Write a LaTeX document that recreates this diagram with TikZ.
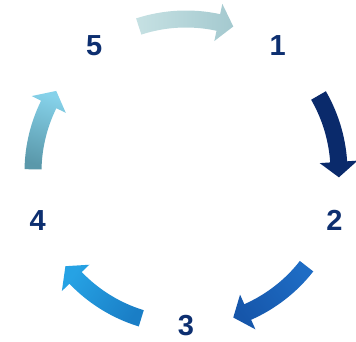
\documentclass[tikz,border=0pt]{standalone}
\usepackage{fontspec}
\setmainfont{Liberation Sans}

\definecolor{azulnum}{HTML}{0D2F70}
\definecolor{cianA}{HTML}{C6E1E3}
\definecolor{cianB}{HTML}{A4C9CF}
\definecolor{marino}{HTML}{0A2A6B}
\definecolor{azulA}{HTML}{1E6CC4}
\definecolor{azulB}{HTML}{1656AA}
\definecolor{celesteA}{HTML}{1A7EC6}
\definecolor{celesteB}{HTML}{26A2E4}
\definecolor{turquesaA}{HTML}{5A98AA}
\definecolor{turquesaB}{HTML}{86D2EA}

% Flecha curva: ángulo inicial, ángulo de la punta, color cola, color punta
\newcommand{\flecha}[4]{%
  \pgfmathsetmacro{\fb}{#2+\largo}
  \pgfmathsetmacro{\ro}{\ra+\ancho}
  \pgfmathsetmacro{\ri}{\ra-\ancho}
  \pgfmathsetmacro{\ho}{\ra+\cabeza}
  \pgfmathsetmacro{\hi}{\ra-\cabeza}
  \pgfmathsetmacro{\sa}{(#1+#2)/2-180}
  \shade[top color=#4, bottom color=#3, shading angle=\sa]
    (#1:\ro) arc[start angle=#1, end angle=\fb, radius=\ro]
    -- (\fb:\ho) -- (#2:\ra) -- (\fb:\hi) -- (\fb:\ri)
    arc[start angle=\fb, end angle=#1, radius=\ri] -- cycle;
}

\begin{document}
\begin{tikzpicture}[x=1pt, y=1pt,
    numero/.style={font=\fontsize{29}{29}\selectfont\bfseries, text=azulnum, inner sep=0pt}]
  % Parámetros del ciclo
  \def\R{156}      % radio de las etiquetas
  \def\ra{153}     % radio medio de las flechas
  \def\ancho{8.5}  % medio ancho del cuerpo
  \def\cabeza{19}  % medio ancho de la punta
  \def\largo{5.8}  % largo de la punta (grados)

  % Marco
  \useasboundingbox (-186,-170) rectangle (170,172);

  % Etiquetas
  \node[numero] (n1) at (54:\R) {1};
  \node[numero] (n2) at (-18:\R) {2};
  \node[numero] (n3) at (-90:\R-2) {3};
  \node[numero] (n4) at (198:\R) {4};
  \node[numero] (n5) at (126:\R) {5};

  % Flechas
  \flecha{108}{72}{cianA}{cianB}
  \flecha{30}{-2}{marino}{marino}
  \flecha{-38}{-72}{azulA}{azulB}
  \flecha{-107}{-142}{celesteA}{celesteB}
  \flecha{179}{148}{turquesaA}{turquesaB}
\end{tikzpicture}
\end{document}
